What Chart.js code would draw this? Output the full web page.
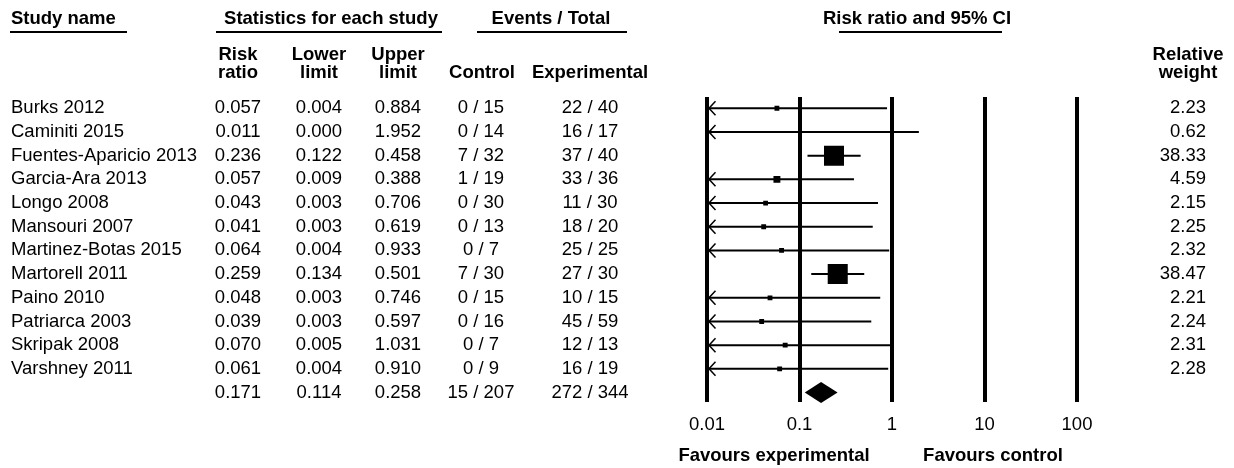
<!DOCTYPE html>
<html>
<head>
<meta charset="utf-8">
<script src="https://cdn.jsdelivr.net/npm/chart.js@4/dist/chart.umd.min.js"></script>
<style>
  html, body { margin: 0; padding: 0; background: #fff; }
  #wrap { width: 1234px; height: 468px; }
  canvas { display: block; }
</style>
</head>
<body>
<div id="wrap"><canvas id="c" width="1234" height="468"></canvas></div>
<script>
// ---------------- DATA ----------------
const studies = ['Burks 2012','Caminiti 2015','Fuentes-Aparicio 2013','Garcia-Ara 2013','Longo 2008','Mansouri 2007','Martinez-Botas 2015','Martorell 2011','Paino 2010','Patriarca 2003','Skripak 2008','Varshney 2011'];
const riskRatio  = [0.057,0.011,0.236,0.057,0.043,0.041,0.064,0.259,0.048,0.039,0.070,0.061];
const lowerLimit = [0.004,0.000,0.122,0.009,0.003,0.003,0.004,0.134,0.003,0.003,0.005,0.004];
const upperLimit = [0.884,1.952,0.458,0.388,0.706,0.619,0.933,0.501,0.746,0.597,1.031,0.910];
const controlEvents = ['0 / 15','0 / 14','7 / 32','1 / 19','0 / 30','0 / 13','0 / 7','7 / 30','0 / 15','0 / 16','0 / 7','0 / 9'];
const experimentalEvents = ['22 / 40','16 / 17','37 / 40','33 / 36','11 / 30','18 / 20','25 / 25','27 / 30','10 / 15','45 / 59','12 / 13','16 / 19'];
const relativeWeight = [2.23,0.62,38.33,4.59,2.15,2.25,2.32,38.47,2.21,2.24,2.31,2.28];
const pooledRR = 0.171, pooledLower = 0.114, pooledUpper = 0.258;
const pooledControl = '15 / 207', pooledExperimental = '272 / 344';
const tickValues = [0.01, 0.1, 1, 10, 100];
const tickLabels = ['0.01', '0.1', '1', '10', '100'];
// --------------------------------------

const FONT = "'Liberation Sans', Arial, Helvetica, sans-serif";
const FS = 18.5;
const X_MIN = tickValues[0], X_MAX = tickValues[tickValues.length - 1];
const nRows = studies.length + 1;

const ciDatasets = studies.map((s, i) => ({
  type: 'line',
  label: s,
  data: [{x: Math.max(lowerLimit[i], X_MIN), y: i}, {x: Math.min(upperLimit[i], X_MAX), y: i}],
  borderColor: '#000',
  borderWidth: 2,
  pointRadius: 0,
  fill: false,
  order: 2
}));

const squareDataset = {
  type: 'scatter',
  label: 'Risk ratio',
  data: riskRatio.map((v, i) => ({x: v, y: i})),
  pointStyle: 'rect',
  pointRadius: relativeWeight.map(w => 3.23 * Math.sqrt(w) / Math.SQRT2),
  pointHoverRadius: relativeWeight.map(w => 3.23 * Math.sqrt(w) / Math.SQRT2),
  backgroundColor: '#000',
  borderWidth: 0,
  order: 1
};

const tablePlugin = {
  id: 'forestTable',
  afterDraw(chart) {
    const {ctx} = chart;
    const xs = chart.scales.x, ys = chart.scales.y;
    ctx.save();
    ctx.fillStyle = '#000';
    ctx.strokeStyle = '#000';
    ctx.textBaseline = 'middle';
    const txt = (s, x, y, align) => { ctx.textAlign = align; ctx.fillText(s, x, y); };
    const hline = (x1, x2, y, w) => { ctx.lineWidth = w; ctx.beginPath(); ctx.moveTo(x1, y); ctx.lineTo(x2, y); ctx.stroke(); };

    // group headers
    ctx.font = `bold ${FS}px ${FONT}`;
    txt('Study name', 11, 19, 'left');
    txt('Statistics for each study', 331, 19, 'center');
    txt('Events / Total', 551, 19, 'center');
    txt('Risk ratio and 95% CI', 917, 19, 'center');
    hline(10, 127, 32, 2);
    hline(216, 442, 32, 2);
    hline(477, 627, 32, 2);
    hline(839, 1002, 32, 2);

    // column headers
    const h1 = 55, h2 = 73;
    txt('Risk', 238, h1, 'center'); txt('ratio', 238, h2, 'center');
    txt('Lower', 319, h1, 'center'); txt('limit', 319, h2, 'center');
    txt('Upper', 398, h1, 'center'); txt('limit', 398, h2, 'center');
    txt('Control', 482, h2, 'center');
    txt('Experimental', 590, h2, 'center');
    txt('Relative', 1188, h1, 'center'); txt('weight', 1188, h2, 'center');

    // rows
    ctx.font = `${FS}px ${FONT}`;
    studies.forEach((s, i) => {
      const py = ys.getPixelForValue(i);
      txt(s, 11, py, 'left');
      txt(riskRatio[i].toFixed(3), 238, py, 'center');
      txt(lowerLimit[i].toFixed(3), 319, py, 'center');
      txt(upperLimit[i].toFixed(3), 398, py, 'center');
      txt(controlEvents[i], 481, py, 'center');
      txt(experimentalEvents[i], 590, py, 'center');
      txt(relativeWeight[i].toFixed(2), 1206, py, 'right');
    });
    const pyS = ys.getPixelForValue(nRows - 1);
    txt(pooledRR.toFixed(3), 238, pyS, 'center');
    txt(pooledLower.toFixed(3), 319, pyS, 'center');
    txt(pooledUpper.toFixed(3), 398, pyS, 'center');
    txt(pooledControl, 481, pyS, 'center');
    txt(pooledExperimental, 590, pyS, 'center');

    // arrows for truncated CIs
    ctx.lineWidth = 1.5;
    const xLeft = xs.getPixelForValue(X_MIN);
    studies.forEach((s, i) => {
      if (lowerLimit[i] < X_MIN) {
        const py = ys.getPixelForValue(i);
        const tip = xLeft + 2;
        ctx.beginPath();
        ctx.moveTo(tip + 6.5, py - 7);
        ctx.lineTo(tip, py);
        ctx.lineTo(tip + 6.5, py + 7);
        ctx.stroke();
      }
    });

    // pooled diamond
    const dl = xs.getPixelForValue(pooledLower), dc = xs.getPixelForValue(pooledRR), du = xs.getPixelForValue(pooledUpper);
    ctx.beginPath();
    ctx.moveTo(dl, pyS);
    ctx.lineTo(dc, pyS - 10.5);
    ctx.lineTo(du, pyS);
    ctx.lineTo(dc, pyS + 10.5);
    ctx.closePath();
    ctx.fill();

    // favours labels
    ctx.font = `bold ${FS}px ${FONT}`;
    txt('Favours experimental', 774, 456, 'center');
    txt('Favours control', 993, 456, 'center');
    ctx.restore();
  }
};

Chart.defaults.font.family = FONT;
Chart.defaults.font.size = FS;
Chart.defaults.color = '#000';

new Chart(document.getElementById('c'), {
  data: { datasets: [squareDataset, ...ciDatasets] },
  options: {
    responsive: false,
    devicePixelRatio: 1,
    animation: false,
    events: [],
    layout: { padding: { left: 707, right: 157, top: 97, bottom: 21.2 } },
    plugins: { legend: { display: false }, tooltip: { enabled: false } },
    scales: {
      x: {
        type: 'logarithmic',
        min: X_MIN,
        max: X_MAX,
        afterBuildTicks: (scale) => { scale.ticks = tickValues.map(v => ({value: v})); },
        ticks: {
          autoSkip: false,
          maxRotation: 0,
          padding: 11.2,
          color: '#000',
          font: { size: FS, family: FONT },
          callback: (v, i) => tickLabels[i]
        },
        grid: { color: '#000', lineWidth: 4, drawTicks: false },
        border: { display: false }
      },
      y: {
        type: 'linear',
        reverse: true,
        min: -0.4758,
        max: 12.408,
        display: false
      }
    }
  },
  plugins: [tablePlugin]
});
</script>
</body>
</html>
